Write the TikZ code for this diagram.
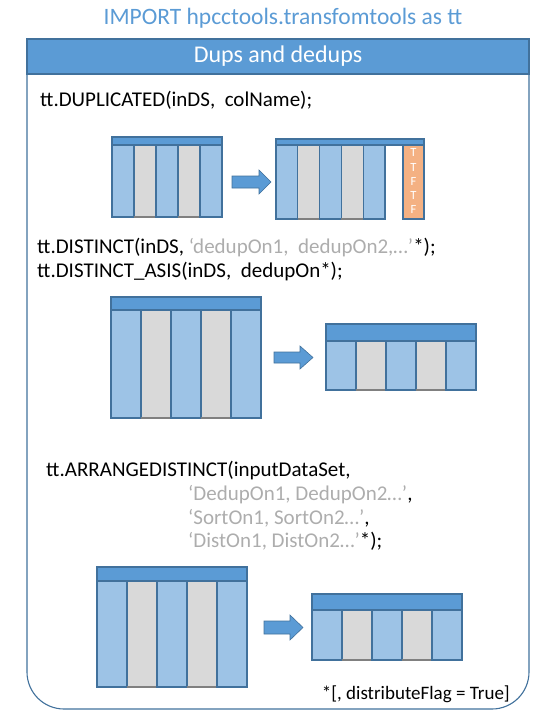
\documentclass[tikz,border=0pt]{standalone}
\usepackage{fontspec}
\setmainfont{Carlito}
\definecolor{hdrblue}{HTML}{5B9BD5}
\definecolor{edgeblue}{HTML}{41719C}
\definecolor{colblue}{HTML}{9DC3E6}
\definecolor{colgray}{HTML}{D9D9D9}
\definecolor{orangecol}{HTML}{F4B183}
\definecolor{txtgray}{HTML}{ADADAD}
\tikzset{
  colbox/.style={draw=edgeblue, line width=1.1pt},
  code/.style={anchor=base west, inner sep=0pt, font=\fontsize{21}{24}\selectfont},
  blkarrow/.style={fill=hdrblue, draw=edgeblue, line width=0.6pt},
  tf/.style={inner sep=0pt, text=white, align=center, font=\fontsize{12.5}{14.3}\selectfont}
}
\newcommand\dtab[6]{%
  \pgfmathsetmacro\cw{(#2-#1)/5}%
  \foreach \i in {0,...,4}{%
    \pgfmathsetmacro\xa{#1+\i*\cw}%
    \pgfmathsetmacro\xb{#1+(\i+1)*\cw}%
    \pgfmathtruncatemacro\oddc{mod(\i,2)}%
    \ifnum\oddc=1
      \draw[colbox, fill=colgray] (\xa,#5) rectangle (\xb,#6);
      \draw[line width=1.1pt, gray] (\xa,#6) -- (\xb,#6);
    \else
      \draw[colbox, fill=colblue] (\xa,#5) rectangle (\xb,#6);
    \fi
  }%
  \draw[colbox, fill=hdrblue] (#1,#4) rectangle (#3,#5);
}
\newcommand\barrow[6]{% x1, xhead, xtip, yc, body half, head half
  \draw[blkarrow] (#1,#4-#5) -- (#2,#4-#5) -- (#2,#4-#6) -- (#3,#4) -- (#2,#4+#6) -- (#2,#4+#5) -- (#1,#4+#5) -- cycle;
}
\begin{document}
\begin{tikzpicture}[x=1pt,y=-1pt]
\useasboundingbox (0,0) rectangle (554,720);
% outer frame
\draw[edgeblue, line width=1.1pt, rounded corners=37pt] (27,45) -- (27,709) -- (529,709) -- (529,45);
\node[fill=hdrblue, draw=edgeblue, line width=1.1pt, minimum width=502pt, minimum height=35pt, inner sep=0pt,
      text=white, font=\fontsize{24}{24}\selectfont] (hdr) at (278,56.5) {Dups and dedups};
\node[text=hdrblue, inner sep=0pt, font=\fontsize{23.5}{24}\selectfont] (title) at (283,18) {IMPORT hpcctools.transfomtools as tt};

% DUPLICATED
\node[code] (dup) at (40,106) {tt.DUPLICATED(inDS,\ \ colName);};
\dtab{112}{222}{222}{137}{145}{217}
\dtab{276}{385}{424}{139}{145}{219}
\draw[colbox, fill=orangecol] (403,145) rectangle (424,219);
\node[tf] (flags) at (413.5,181.3) {T\\T\\F\\T\\F};
\barrow{232}{259}{271}{182}{6}{12}

% DISTINCT
\node[code] (dist) at (37,253) {tt.DISTINCT(inDS, \textcolor{txtgray}{‘dedupOn1,\ \ dedupOn2,…’}*);};
\node[code] (asis) at (37,277) {tt.DISTINCT\_ASIS(inDS,\ \ dedupOn*);};
\dtab{111}{261}{261}{297}{310}{418}
\dtab{326}{476}{476}{324}{341}{390}
\barrow{274}{300}{313}{357.5}{5.5}{11.5}

% ARRANGEDISTINCT
\node[code] (arr) at (46,476) {tt.ARRANGEDISTINCT(inputDataSet,};
\node[code] (a1) at (188,500) {\textcolor{txtgray}{‘DedupOn1, DedupOn2…’},};
\node[code] (a2) at (188,524) {\textcolor{txtgray}{‘SortOn1, SortOn2…’},};
\node[code] (a3) at (188,547) {\textcolor{txtgray}{‘DistOn1, DistOn2…’}*);};
\dtab{97}{247}{247}{567}{581}{687}
\dtab{312}{462}{462}{594}{610}{660}
\barrow{264}{290}{303}{627.5}{6.5}{12.5}

\node[anchor=base east, inner sep=0pt, font=\fontsize{19}{20}\selectfont] (foot) at (510,699) {*[, distributeFlag = True]};
\end{tikzpicture}
\end{document}
